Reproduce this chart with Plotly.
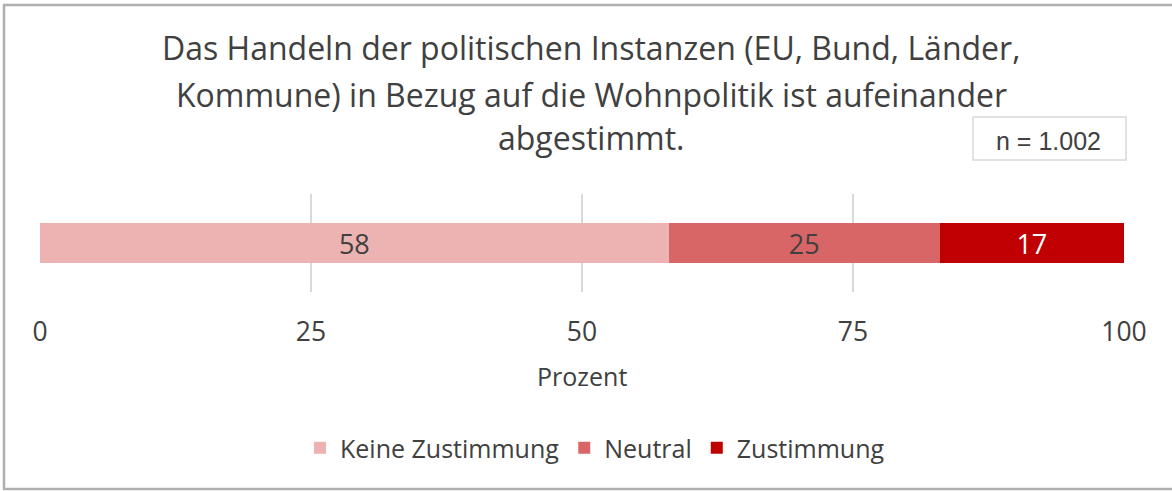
import plotly.graph_objects as go

categories = ["Keine Zustimmung", "Neutral", "Zustimmung"]
values = [58, 25, 17]
colors = ["#EDB2B2", "#D96666", "#C00000"]
label_colors = ["#404040", "#404040", "#FFFFFF"]
tick_vals = [0, 25, 50, 75, 100]
title_lines = [
    "Das Handeln der politischen Instanzen (EU, Bund, Länder,",
    "Kommune) in Bezug auf die Wohnpolitik ist aufeinander",
    "abgestimmt.",
]
n_text = "n = 1.002"
axis_title = "Prozent"

W, H = 1172, 491
L, R, T, B = 40, 48, 194, 199
PW, PH = W - L - R, H - T - B


def px(x):
    return (x - L) / PW


def py(y):
    return (H - B - y) / PH


FONT = "'Open Sans', Lato, sans-serif"
TXT = "#404040"

fig = go.Figure()
for cat, v, c, lc in zip(categories, values, colors, label_colors):
    fig.add_trace(go.Bar(
        y=[""], x=[v], name=cat, orientation="h",
        marker=dict(color=c, line=dict(width=0)),
        text=[str(v)], textposition="inside", insidetextanchor="middle",
        textangle=0, constraintext="none",
        textfont=dict(color=lc, size=27, family=FONT),
        hoverinfo="skip",
    ))

annotations = []
for i, line in enumerate(title_lines):
    annotations.append(dict(
        text=line, x=px(591), y=py([47, 94, 137][i]), xref="paper", yref="paper",
        xanchor="center", yanchor="middle", showarrow=False,
        font=dict(size=32, color=TXT, family=FONT),
    ))
annotations.append(dict(
    text=axis_title, x=px(582), y=py(376), xref="paper", yref="paper",
    xanchor="center", yanchor="middle", showarrow=False,
    font=dict(size=25, color=TXT, family=FONT),
))
annotations.append(dict(
    text=n_text, x=px(1048), y=py(141), xref="paper", yref="paper",
    xanchor="center", yanchor="middle", showarrow=False,
    font=dict(size=25, color=TXT, family="'Liberation Sans', Arial, sans-serif"),
))

BORDER = dict(color="#B0B0B0", width=2.5)
shapes = [
    dict(type="rect", xref="paper", yref="paper",
         x0=px(973), x1=px(1126), y0=py(117), y1=py(160),
         line=dict(color="#D9D9D9", width=1.5), fillcolor="white"),
    dict(type="line", xref="paper", yref="paper",
         x0=px(4), x1=px(4), y0=py(4), y1=py(489), line=BORDER),
    dict(type="line", xref="paper", yref="paper",
         x0=px(3), x1=px(1172), y0=py(5), y1=py(5), line=BORDER),
    dict(type="line", xref="paper", yref="paper",
         x0=px(3), x1=px(1172), y0=py(489), y1=py(489), line=BORDER),
]

fig.update_layout(
    width=W, height=H,
    margin=dict(l=L, r=R, t=T, b=B),
    barmode="stack", bargap=1 - 40 / PH,
    paper_bgcolor="white", plot_bgcolor="white",
    font=dict(family=FONT, color=TXT),
    showlegend=True,
    legend=dict(
        orientation="h", x=px(595), xanchor="center", y=py(448), yanchor="middle",
        font=dict(size=25, color=TXT, family=FONT), traceorder="normal",
        itemwidth=30,
    ),
    xaxis=dict(
        range=[0, 100], tickvals=tick_vals, showgrid=True, gridcolor="#D9D9D9",
        gridwidth=1.5, zeroline=False, showline=False,
        ticks="outside", ticklen=16, tickcolor="rgba(0,0,0,0)",
        tickfont=dict(size=26.5, color=TXT, family=FONT), fixedrange=True,
    ),
    yaxis=dict(showticklabels=False, showgrid=False, zeroline=False,
               range=[-0.5, 0.5], fixedrange=True),
    annotations=annotations,
    shapes=shapes,
)

fig.write_html(
    "out.html",
    config={"displayModeBar": False},
    post_script="document.body.style.margin='0';document.body.style.overflow='hidden';",
)
